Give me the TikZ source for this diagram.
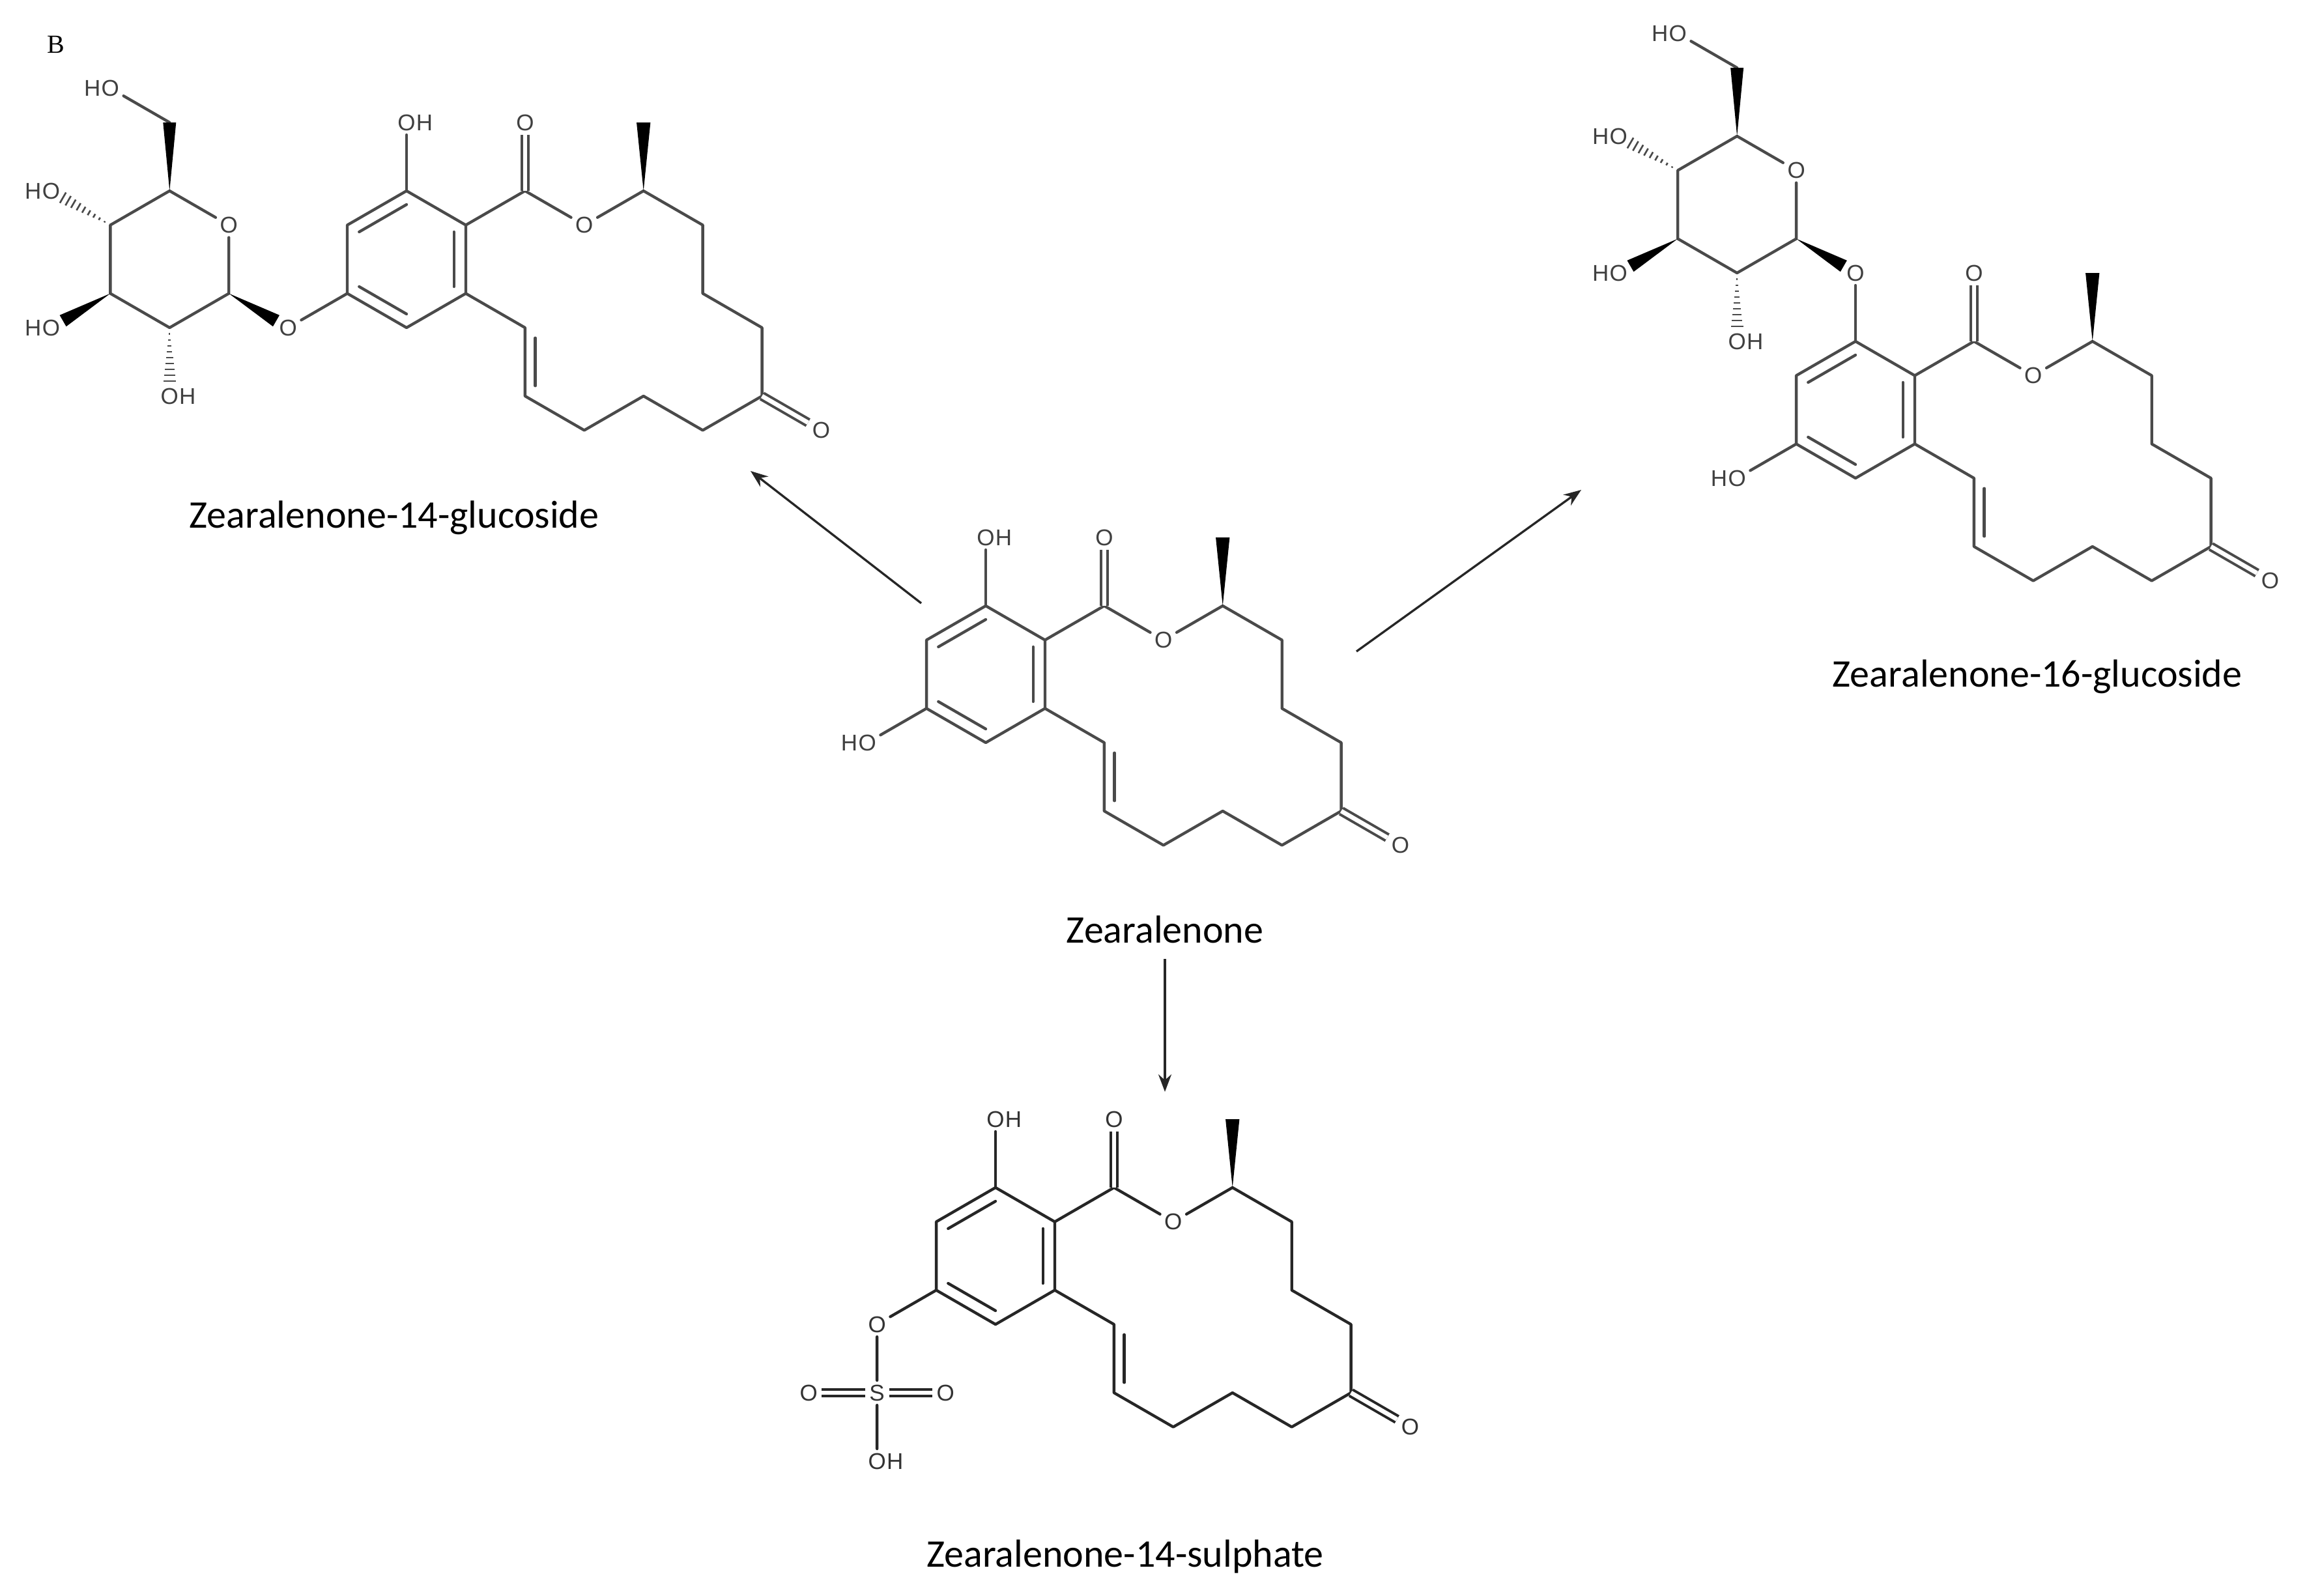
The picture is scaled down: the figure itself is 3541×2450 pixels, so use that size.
\documentclass[tikz,border=0pt]{standalone}
\usepackage{fontspec}
\setmainfont{Carlito}
\newfontfamily\atomfont{Liberation Sans}
\newfontfamily\serifB{Liberation Serif}
\usetikzlibrary{calc,arrows.meta}
\definecolor{bondc}{HTML}{4A4A4A}
\definecolor{atomc}{HTML}{404040}
\def\hh{0.866}
\tikzset{
  bond/.style={draw=bondc, line width=1.3pt, line cap=round, line join=round},
  dbl/.style={draw=bondc, line width=1.2pt, double=white, double distance=2pt},
  atom/.style={font=\atomfont\fontsize{10.5}{12}\selectfont, text=atomc, inner sep=1.8pt},
  lab/.style={font=\fontsize{18}{21}\selectfont, text=black},
  arr/.style={draw=black!85, line width=1pt, -{Stealth[length=8pt,width=6pt]}}
}
\newcommand\innerdb[3]{\draw[bond] ($(#1)!0.8!(#2)$) -- ($(#1)!0.8!(#3)$);}
\newcommand\wdg[4]{\fill[black] (#1) -- ($(#1)!#3!(#2)!#4!90:(#1)$) -- ($(#1)!#3!(#2)!#4!-90:(#1)$) -- cycle;}
\newcommand\hsh[3]{\coordinate (hP) at ($(#1)!#3!(#2)$);
  \coordinate (hWa) at ($(hP)!2.8pt!90:(#1)$);
  \coordinate (hWb) at ($(hP)!2.8pt!-90:(#1)$);
  \foreach \t in {0.12,0.23,0.34,0.45,0.56,0.67,0.78,0.89,1.0} {\draw[draw=bondc, line width=0.8pt] ($(#1)!\t!(hWa)$) -- ($(#1)!\t!(hWb)$);}}
\newcommand\zcore[1]{%
  \coordinate (#1T) at (0,0);
  \coordinate (#1UL) at (-\hh,-.5);
  \coordinate (#1LL) at (-\hh,-1.5);
  \coordinate (#1B) at (0,-2);
  \coordinate (#1LR) at (\hh,-1.5);
  \coordinate (#1UR) at (\hh,-.5);
  \coordinate (#1cen) at (0,-1);
  \coordinate (#1C1) at (2*\hh,0);
  \node[atom] (#1O1) at (2*\hh,1) {O};
  \node[atom] (#1O2) at (3*\hh,-.5) {O};
  \coordinate (#1C3) at (4*\hh,0);
  \coordinate (#1Me) at (4*\hh,1);
  \coordinate (#1C4) at (5*\hh,-.5);
  \coordinate (#1C5) at (5*\hh,-1.5);
  \coordinate (#1C6) at (6*\hh,-2);
  \coordinate (#1C7) at (6*\hh,-3);
  \node[atom] (#1O3) at (7*\hh,-3.5) {O};
  \coordinate (#1C8) at (5*\hh,-3.5);
  \coordinate (#1C9) at (4*\hh,-3);
  \coordinate (#1C10) at (3*\hh,-3.5);
  \coordinate (#1C11) at (2*\hh,-3);
  \coordinate (#1C12) at (2*\hh,-2);
  \draw[bond] (#1T)--(#1UL)--(#1LL)--(#1B)--(#1LR)--(#1UR)--cycle;
  \innerdb{#1cen}{#1T}{#1UL}\innerdb{#1cen}{#1LL}{#1B}\innerdb{#1cen}{#1LR}{#1UR}
  \draw[bond] (#1UR)--(#1C1)--(#1O2)--(#1C3)--(#1C4)--(#1C5)--(#1C6)--(#1C7)--(#1C8)--(#1C9)--(#1C10)--(#1C11)--(#1C12)--(#1LR);
  \draw[dbl] (#1C1)--(#1O1);
  \draw[dbl] (#1C7)--(#1O3);
  \draw[bond] ($(#1C11)+(.15,.15)$)--($(#1C12)+(.15,-.15)$);
  \wdg{#1C3}{#1Me}{1}{3.2pt}
}
\newcommand\OHtop[1]{\node[atom] (#1OT) at (0,1) {O};
  \node[atom,anchor=west,xshift=-3.6pt] (#1HT) at (#1OT.east) {H};
  \draw[bond] (#1T)--(#1OT);}
\newcommand\HOll[1]{\node[atom] (#1OL) at (-2*\hh,-2) {O};
  \node[atom,anchor=east,xshift=3.6pt] (#1HL) at (#1OL.west) {H};
  \draw[bond] (#1LL)--(#1OL);}
\newcommand\glc[3]{%
  \node[atom] (#1g) at (#2,#3) {O};
  \coordinate (#1C1) at ($(#2,#3)+(-\hh,.5)$);
  \node[atom] (#1RO) at ($(#2,#3)+(-\hh,1.5)$) {O};
  \coordinate (#1C5) at ($(#2,#3)+(-2*\hh,2)$);
  \coordinate (#1C4) at ($(#2,#3)+(-3*\hh,1.5)$);
  \coordinate (#1C3) at ($(#2,#3)+(-3*\hh,.5)$);
  \coordinate (#1C2) at ($(#2,#3)+(-2*\hh,0)$);
  \coordinate (#1C6) at ($(#2,#3)+(-2*\hh,3)$);
  \node[atom] (#1O6) at ($(#2,#3)+(-3*\hh,3.5)$) {O};
  \node[atom,anchor=east,xshift=3.6pt] (#1H6) at (#1O6.west) {H};
  \node[atom] (#1O4) at ($(#2,#3)+(-4*\hh,2)$) {O};
  \node[atom,anchor=east,xshift=3.6pt] (#1H4) at (#1O4.west) {H};
  \node[atom] (#1O3) at ($(#2,#3)+(-4*\hh,0)$) {O};
  \node[atom,anchor=east,xshift=3.6pt] (#1H3) at (#1O3.west) {H};
  \node[atom] (#1O2) at ($(#2,#3)+(-2*\hh,-1)$) {O};
  \node[atom,anchor=west,xshift=-3.6pt] (#1H2) at (#1O2.east) {H};
  \draw[bond] (#1C1)--(#1RO)--(#1C5)--(#1C4)--(#1C3)--(#1C2)--(#1C1);
  \draw[bond] (#1C6)--(#1O6);
  \wdg{#1C1}{#1g}{0.8}{3pt}
  \wdg{#1C5}{#1C6}{1}{3pt}
  \hsh{#1C4}{#1O4}{0.8}
  \wdg{#1C3}{#1O3}{0.8}{3pt}
  \hsh{#1C2}{#1O2}{0.78}
}
\begin{document}
\begin{tikzpicture}[x=0.3pt,y=-0.3pt]
\useasboundingbox[fill=white] (0,0) rectangle (3541,2450);
\node[font=\serifB\fontsize{12}{14}\selectfont] (lblB) at (86,68) {B};

% central zearalenone
\begin{scope}[shift={(1513,930)},x=31.5pt,y=31.5pt]
  \zcore{z}\OHtop{z}\HOll{z}
\end{scope}
% left: 14-glucoside
\begin{scope}[shift={(624,293)},x=31.5pt,y=31.5pt]
  \zcore{l}\OHtop{l}
  \glc{lg}{-2*\hh}{-2}
  \draw[bond] (lLL)--(lgg);
\end{scope}
% right: 16-glucoside
\begin{scope}[shift={(2848,524)},x=31.5pt,y=31.5pt]
  \zcore{r}\HOll{r}
  \glc{rg}{0}{1}
  \draw[bond] (rT)--(rgg);
\end{scope}
% bottom: 14-sulphate
\begin{scope}[shift={(1528,1823)},x=31.5pt,y=31.5pt,
  bond/.append style={draw=black!85}, dbl/.append style={draw=black!85}, atom/.append style={text=black!80}]
  \zcore{s}\OHtop{s}
  \node[atom] (sOs) at (-2*\hh,-2) {O};
  \node[atom] (sS) at (-2*\hh,-3) {S};
  \node[atom] (sOa) at (-2*\hh-1,-3) {O};
  \node[atom] (sOb) at (-2*\hh+1,-3) {O};
  \node[atom] (sOh) at (-2*\hh,-4) {O};
  \node[atom,anchor=west,xshift=-3.6pt] (sHh) at (sOh.east) {H};
  \draw[bond] (sLL)--(sOs)--(sS)--(sOh);
  \draw[dbl] (sS)--(sOa);
  \draw[dbl] (sS)--(sOb);
\end{scope}

% labels
\node[lab] (t1) at (605,795) {Zearalenone-14-glucoside};
\node[lab] (t2) at (3127,1039) {Zearalenone-16-glucoside};
\node[lab] (t0) at (1788,1427) {Zearalenone};
\node[lab] (t3) at (1727,2389) {Zearalenone-14-sulphate};

% arrows
\coordinate (aL1) at (1414,926); \coordinate (aL2) at (1152,723);
\coordinate (aR1) at (2082,1000); \coordinate (aR2) at (2427,752);
\coordinate (aD1) at (1788,1472); \coordinate (aD2) at (1788,1676);
\draw[arr] (aL1)--(aL2);
\draw[arr] (aR1)--(aR2);
\draw[arr] (aD1)--(aD2);
\end{tikzpicture}
\end{document}
